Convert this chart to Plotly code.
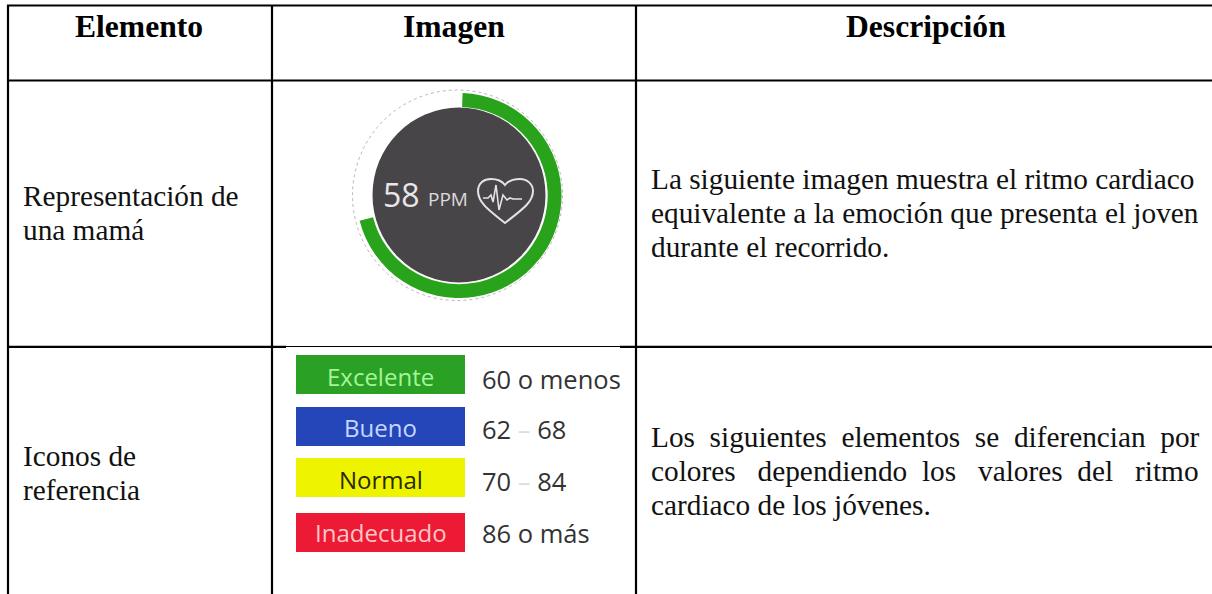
import plotly.graph_objects as go

# ---------- content ----------
headers = ["Elemento", "Imagen", "Descripción"]
row1_name = ["Representación de", "una mamá"]
row2_name = ["Iconos de", "referencia"]
row1_desc = ["La siguiente imagen muestra el ritmo cardiaco",
             "equivalente a la emoción que presenta el joven",
             "durante el recorrido."]
row2_desc = ["Los  siguientes  elementos  se  diferencian  por",
             "colores   dependiendo  los   valores  del   ritmo",
             "cardiaco de los jóvenes."]
gauge_value = "58"
gauge_unit = "PPM"
gauge_filled = [70.5]
gauge_empty = [29.5]
level_names = ["Excelente", "Bueno", "Normal", "Inadecuado"]
level_ranges = ["60 o menos", "62 – 68", "70 – 84", "86 o más"]
level_fill = ["#2aa125", "#2546b8", "#eef400", "#ec1a34"]
level_ink = ["#a5f59a", "#c4d8ff", "#2a2a00", "#ffc6c8"]

# ---------- layout constants (pixels of the 1212x594 page) ----------
W, H = 1212, 594
SERIF = "Liberation Serif"
SANS = "Open Sans"
CX, CY, R_OUT = 459, 195.5, 102.5

fig = go.Figure()
fig.add_trace(go.Pie(
    values=[gauge_filled[0], gauge_empty[0]], hole=0.865, sort=False,
    direction="clockwise", rotation=2,
    marker=dict(colors=["#2aa31c", "rgba(255,255,255,0)"], line=dict(width=0)),
    textinfo="none", hoverinfo="skip", showlegend=False,
    domain=dict(x=[(CX - R_OUT) / W, (CX + R_OUT) / W],
                y=[1 - (CY + R_OUT) / H, 1 - (CY - R_OUT) / H]),
))

shapes = []
def line(x0, y0, x1, y1, w=2.2):
    shapes.append(dict(type="line", x0=x0, y0=y0, x1=x1, y1=y1,
                       line=dict(color="#000000", width=w)))

# table rules
line(7, 5.5, W, 5.5)
line(7, 80.5, W, 80.5)
line(7, 346.8, 286, 346.8)
line(286, 346.5, 620, 346.5, 1.2)
line(620, 346.8, W, 346.8)
for x in (8, 272, 636):
    line(x, 5, x, H)

# gauge
shapes.append(dict(type="circle", x0=CX - 106.5, x1=CX + 103.5, y0=CY - 105.5, y1=CY + 105,
                   line=dict(color="#b9b4b9", width=1, dash="dot")))
shapes.append(dict(type="circle", x0=CX - 86.5, x1=CX + 86.5, y0=CY - 88, y1=CY + 87,
                   fillcolor="#484548", line=dict(width=0)))
heart = ("M 505 223 C 490 211 478 203 478 191 C 478 183 484 179 491 179 "
         "C 497 179 502 181 505 185 C 508 181 514 179 520 179 "
         "C 527 179 533 184 533 191 C 533 203 520 211 505 223 Z")
pulse = ("M 483 198 L 488 198 L 491 195 L 493 202 L 496 185 L 499 210 L 503 195 "
         "L 507 200 L 510 198 L 513 199 L 522 199")
shapes.append(dict(type="path", path=heart, line=dict(color="#e4e2e4", width=2)))
shapes.append(dict(type="path", path=pulse, line=dict(color="#e4e2e4", width=1.6)))

# level bars
bar_y = [355, 407, 458, 513]
name_y = [376, 427, 479, 532]
range_y = [379, 429, 481, 533]
for y, c in zip(bar_y, level_fill):
    shapes.append(dict(type="rect", x0=296, x1=465, y0=y, y1=y + 39,
                       fillcolor=c, line=dict(width=0)))

ann = []
def text(x, y, s, size, color="#000000", family=SERIF, anchor="left", bold=False):
    ann.append(dict(x=x, y=y, xref="x", yref="y", text=f"<b>{s}</b>" if bold else s,
                    showarrow=False, xanchor=anchor, yanchor="middle", align=anchor,
                    borderpad=0, borderwidth=0,
                    font=dict(family=family, size=size, color=color)))

for x, s in zip((139, 454, 926), headers):
    text(x, 26, s, 31.6, anchor="center", bold=True)
for y, s in zip((196, 230), row1_name):
    text(23, y, s, 29.3, color="#111111")
for y, s in zip((456, 490), row2_name):
    text(23, y, s, 29.3, color="#111111")
for y, s in zip((179, 213, 246.5), row1_desc):
    text(651, y, s, 29.3, color="#111111")
for y, s in zip((437, 471, 504.5), row2_desc):
    text(651, y, s, 29.3, color="#111111")

text(383, 194, gauge_value, 32, color="#e8e6e8", family=SANS)
text(428, 199, gauge_unit, 19, color="#dcdadc", family=SANS)

for ny, ry, n, r, ink in zip(name_y, range_y, level_names, level_ranges, level_ink):
    text(380.5, ny, n, 24, color=ink, family=SANS, anchor="center")
    text(482, ry, r.replace("–", '<span style="color:#dddddd">–</span>'), 25.5,
         color="#333333", family=SANS)

fig.update_layout(
    width=W, height=H, autosize=False, margin=dict(l=0, r=0, t=0, b=0, pad=0),
    paper_bgcolor="#ffffff", plot_bgcolor="#ffffff", showlegend=False,
    xaxis=dict(range=[0, W], visible=False, fixedrange=True),
    yaxis=dict(range=[H, 0], visible=False, fixedrange=True),
    shapes=shapes, annotations=ann,
)
fig.write_html("out.html", config={"displayModeBar": False},
               post_script="document.body.style.margin='0';")
